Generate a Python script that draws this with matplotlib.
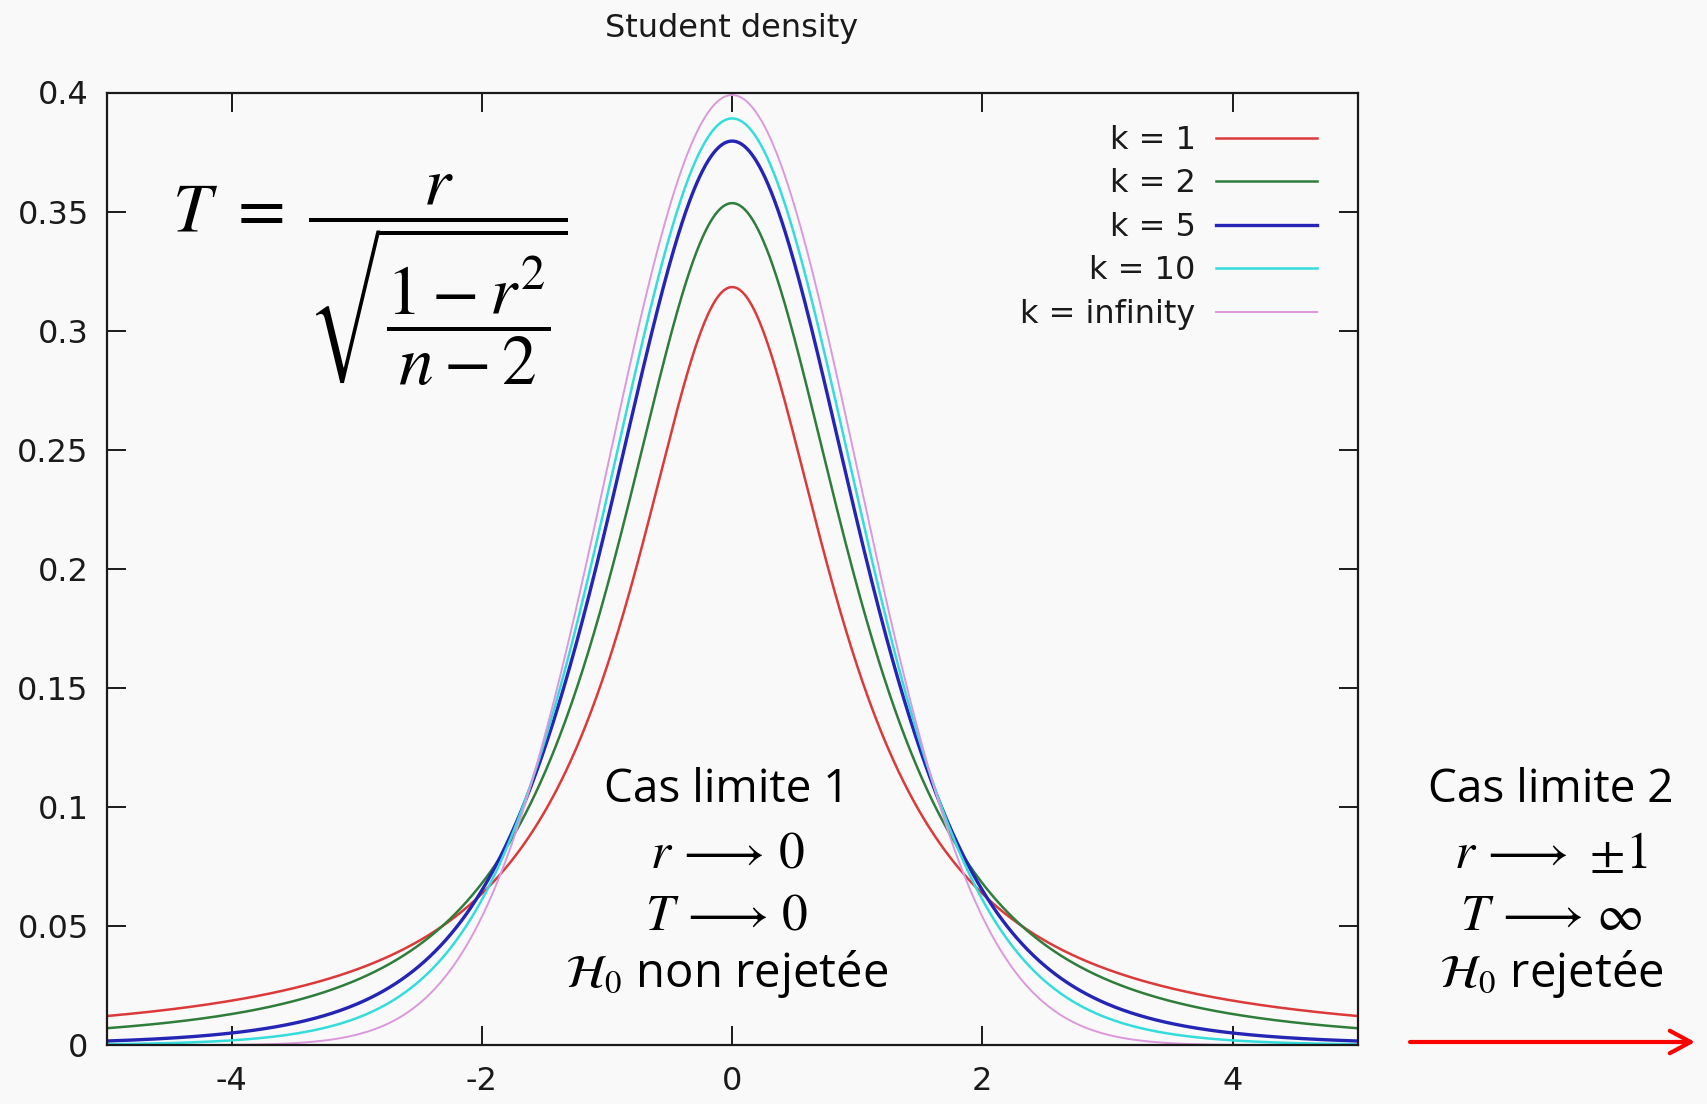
import math
import numpy as np
import matplotlib
matplotlib.use("Agg")
import matplotlib.pyplot as plt
from matplotlib.patches import FancyArrowPatch

# ---- data ----
dof = [1, 2, 5, 10, None]          # None = infinity (normal law)
labels = ["k = 1", "k = 2", "k = 5", "k = 10", "k = infinity"]
colors = ["#dc3a3a", "#2f7d3a", "#2424b5", "#35dcdc", "#dc98dc"]
widths = [1.8, 1.8, 2.4, 1.8, 1.4]
x_range = [-5, 5]
y_range = [0, 0.4]
xticks = [-4, -2, 0, 2, 4]
xtick_labels = ["-4", "-2", "0", "2", "4"]
yticks = [0, 0.05, 0.1, 0.15, 0.2, 0.25, 0.3, 0.35, 0.4]
ytick_labels = ["0", "0.05", "0.1", "0.15", "0.2", "0.25", "0.3", "0.35", "0.4"]
title = "Student density"


def student_pdf(x, k):
    if k is None:
        return np.exp(-x ** 2 / 2) / math.sqrt(2 * math.pi)
    c = math.gamma((k + 1) / 2) / (math.sqrt(k * math.pi) * math.gamma(k / 2))
    return c * (1 + x ** 2 / k) ** (-(k + 1) / 2)


plt.rcParams["mathtext.fontset"] = "stix"
W, H = 1707, 1104
bg = "#f9f9f9"
fig = plt.figure(figsize=(W / 100, H / 100), dpi=100, facecolor=bg)
L, R, T, B = 106.7, 1357.6, 92.5, 1045.2
ax = fig.add_axes([L / W, 1 - B / H, (R - L) / W, (B - T) / H], facecolor=bg)

xs = np.linspace(x_range[0], x_range[1], 2001)
handles = []
for k, lab, col, lw in zip(dof, labels, colors, widths):
    h, = ax.plot(xs, student_pdf(xs, k), color=col, lw=lw, label=lab)
    handles.append(h)

ax.set_xlim(*x_range)
ax.set_ylim(*y_range)
ax.set_xticks(xticks, xtick_labels)
ax.set_yticks(yticks, ytick_labels)
ax.tick_params(direction="in", length=14, width=1.4, top=True, right=True,
               labelsize=23, colors="#1a1a1a")
ax.tick_params(axis="y", pad=13)
ax.tick_params(axis="x", pad=15)
for sp in ax.spines.values():
    sp.set_linewidth(1.6)
    sp.set_color("#1a1a1a")

leg = ax.legend(handles=handles, loc="upper right",
                bbox_to_anchor=((1317 - L) / (R - L), 0.966),
                borderaxespad=0, borderpad=0, frameon=False, markerfirst=False,
                fontsize=23, handlelength=3.15, handletextpad=0.65,
                labelspacing=0.39)
for t in leg.get_texts():
    t.set_color("#1a1a1a")

fig.text(732 / W, 1 - 37 / H, title, ha="center", va="baseline",
         fontsize=23, color="#1a1a1a")

# formula
fig.text(172 / W, 1 - 280 / H,
         r"$T\ =\;\dfrac{r}{\sqrt{\dfrac{1-r^2}{n-2}}}$",
         ha="left", va="center", fontsize=50, color="black")

# annotations
ann_font = ["Open Sans", "DejaVu Sans"]
lines1 = ["Cas limite 1", r"$r\,\longrightarrow\,0$", r"$T\,\longrightarrow\,0$",
          r"$\mathcal{H}_0$ non rejetée"]
lines2 = ["Cas limite 2", r"$r\,\longrightarrow\,\pm\!1$", r"$T\,\longrightarrow\,\infty$",
          r"$\mathcal{H}_0$ rejetée"]
sizes = [33, 37, 37, 34]
baselines = [802, 868, 930, 987]
for cx, lines in ((727, lines1), (1551, lines2)):
    for yb, s, fs in zip(baselines, lines, sizes):
        fig.text(cx / W, 1 - yb / H, s, ha="center", va="baseline",
                 fontsize=fs, family=ann_font, color="black")

arrow = FancyArrowPatch((1410 / W, 1 - 1042 / H), (1695 / W, 1 - 1042 / H),
                        transform=fig.transFigure,
                        arrowstyle="->,head_length=0.5,head_width=0.27",
                        mutation_scale=30, lw=3, color="#ff0000",
                        shrinkA=0, shrinkB=0)
fig.add_artist(arrow)

fig.savefig("out.png", dpi=100, facecolor=bg)
